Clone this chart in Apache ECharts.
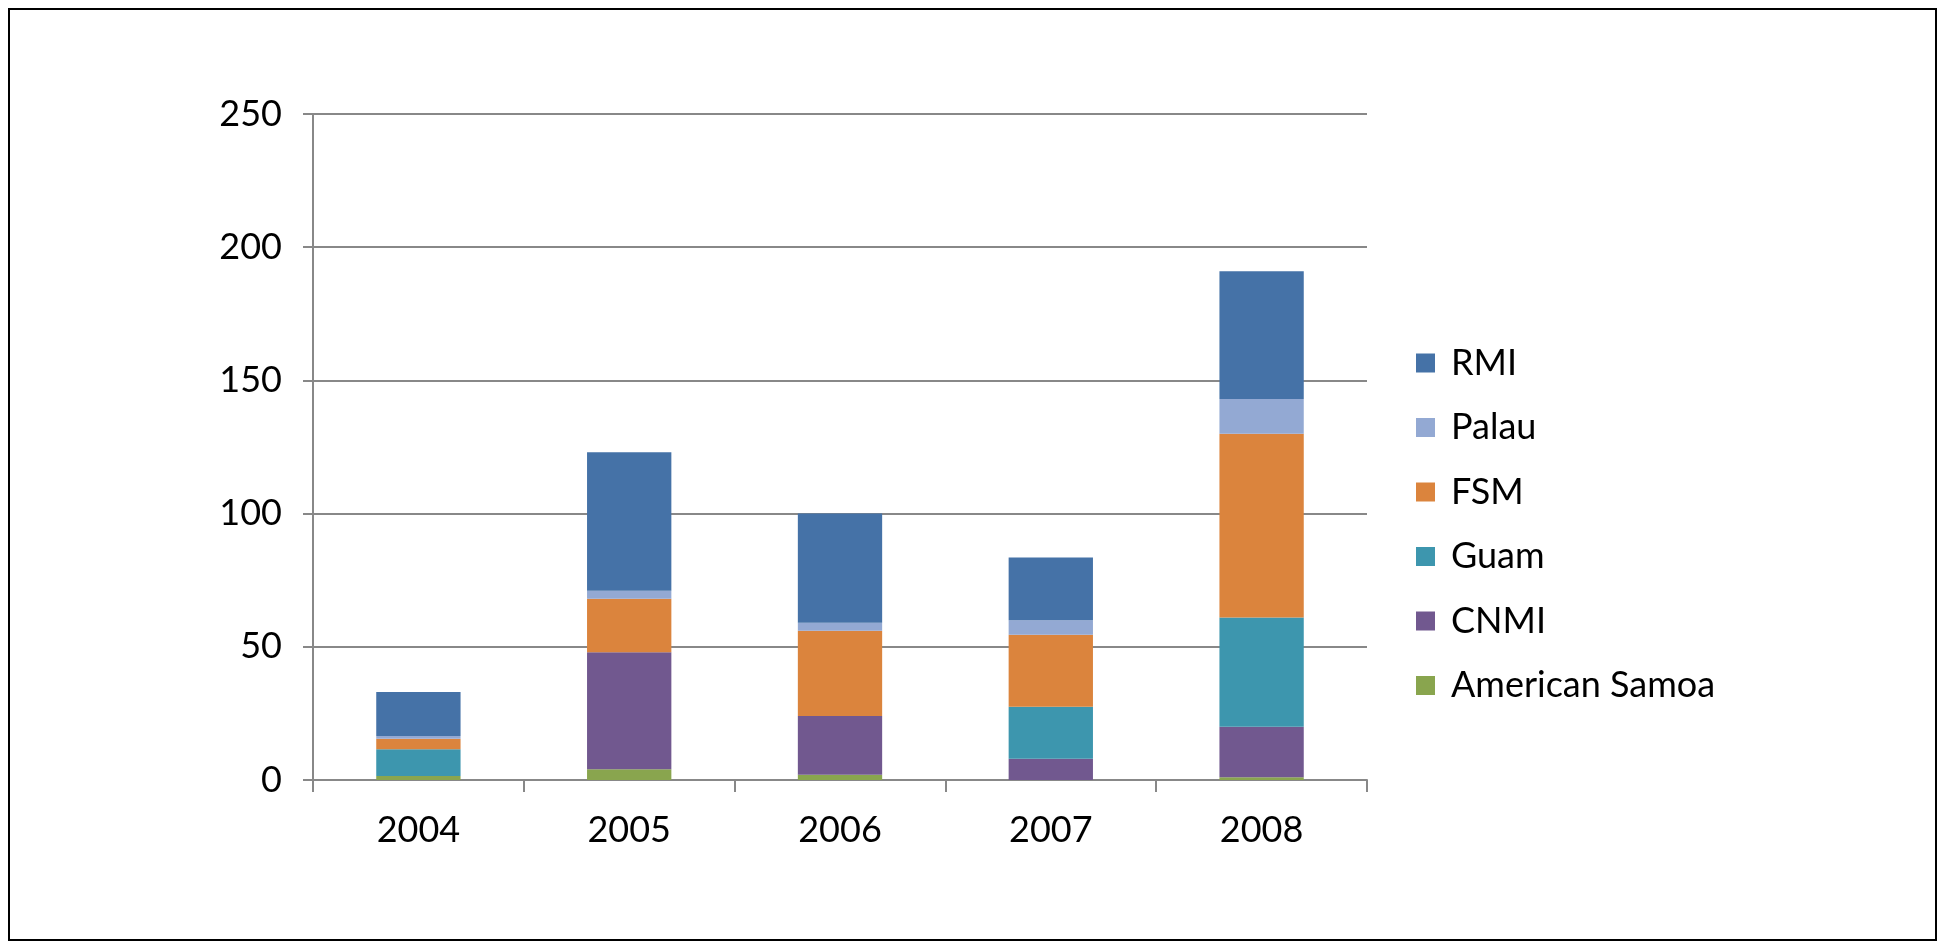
<!DOCTYPE html>
<html><head><meta charset="utf-8">
<script src="https://cdn.jsdelivr.net/npm/echarts@6/dist/echarts.min.js"></script>
<style>html,body{margin:0;padding:0;background:#fff}#c{width:1950px;height:948px}</style>
</head><body><div id="c"></div>
<script>
var years = ['2004','2005','2006','2007','2008'];
var americanSamoa = [1.5, 4, 2, 0, 1];
var cnmi = [0, 44, 22, 8, 19];
var guam = [10, 0, 0, 19.5, 41];
var fsm = [4, 20, 32, 27, 69];
var palau = [1, 3, 3, 5.5, 13];
var rmi = [16.5, 52, 41, 23.5, 48];
var seriesNames = ['American Samoa','CNMI','Guam','FSM','Palau','RMI'];
var seriesColors = ['#89A54E','#71588F','#3D96AE','#DB843D','#93A9D3','#4572A7'];
var yTicks = [0, 50, 100, 150, 200, 250];

var dataList = [americanSamoa, cnmi, guam, fsm, palau, rmi];
var font = 'Lato';
var chart = echarts.init(document.getElementById('c'), null, {renderer:'canvas'});
chart.setOption({
  animation: false,
  backgroundColor: '#fff',
  graphic: [{type:'rect', shape:{x:9,y:9,width:1927,height:931}, style:{fill:'none', stroke:'#000', lineWidth:2}}],
  grid: {left:313, right:1950-1367, top:114, bottom:948-780, containLabel:false},
  legend: {
    orient:'vertical', left:1411, top:338,
    data: seriesNames.slice().reverse(),
    itemWidth:19, itemHeight:19, itemGap:24.5,
    icon:'rect',
    textStyle:{fontFamily:font, fontSize:36, color:'#000', lineHeight:40, padding:[0,0,0,11]}
  },
  xAxis: {
    type:'category', data:years,
    axisLine:{lineStyle:{color:'#888', width:2}},
    axisTick:{show:true, length:12, lineStyle:{color:'#888', width:2}},
    axisLabel:{fontFamily:font, fontSize:36, color:'#000', margin:32}
  },
  yAxis: {
    type:'value', min:yTicks[0], max:yTicks[yTicks.length-1], interval:50,
    axisLine:{show:true, lineStyle:{color:'#888', width:2}},
    axisTick:{show:true, length:10, lineStyle:{color:'#888', width:2}},
    splitLine:{lineStyle:{color:'#888', width:2}},
    axisLabel:{fontFamily:font, fontSize:36, color:'#000', margin:31}
  },
  series: seriesNames.map(function(n,i){
    return {name:n, type:'bar', stack:'s', data:dataList[i], barWidth:'40%',
      itemStyle:{color:seriesColors[i]}};
  })
});
</script></body></html>
